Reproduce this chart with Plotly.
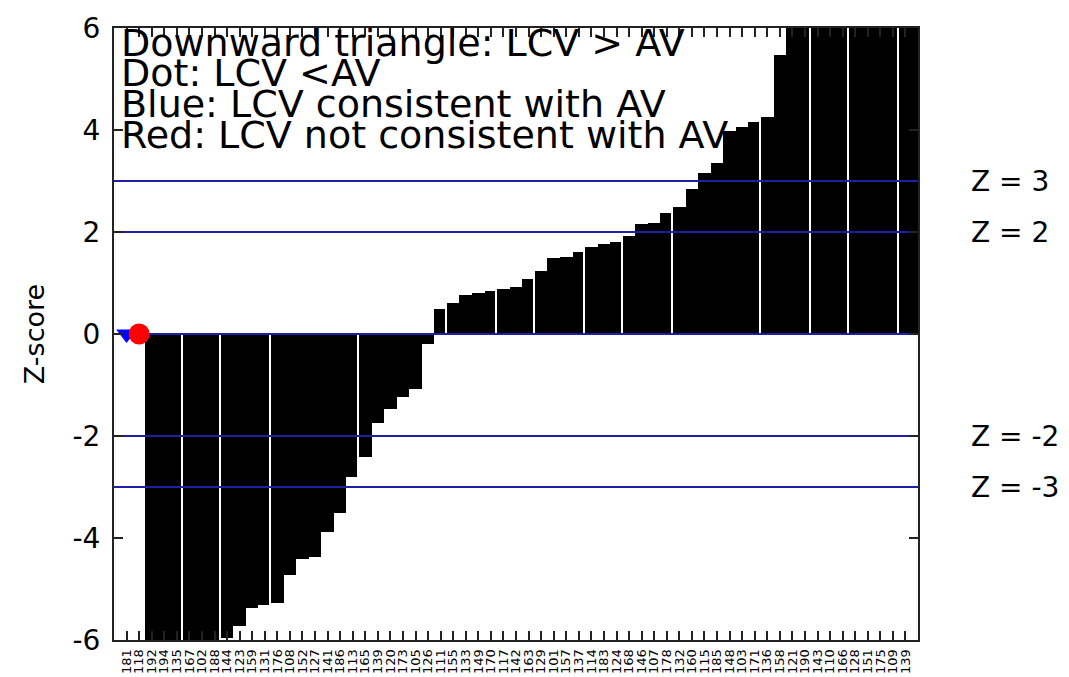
import plotly.graph_objects as go

# ---------------- data ----------------
labels = [
    "181", "118", "192", "194", "135", "167", "102", "188",
    "144", "123", "159", "131", "176", "108", "152", "127",
    "141", "186", "113", "165", "139", "120", "173", "105",
    "126", "111", "155", "133", "149", "170", "117", "142",
    "163", "129", "101", "157", "137", "114", "183", "124",
    "168", "146", "107", "178", "132", "160", "115", "185",
    "148", "103", "171", "136", "158", "121", "190", "143",
    "110", "166", "128", "151", "175", "109", "139", "",
]

z_scores = [
    None, None,
    -12.0, -10.5, -9.1, -8.0, -7.2, -6.5,
    -5.97, -5.73, -5.38, -5.31, -5.27, -4.73, -4.42, -4.38,
    -3.89, -3.50, -2.80, -2.41, -1.74, -1.48, -1.23, -1.07, -0.20,
    0.49, 0.61, 0.76, 0.81, 0.85, 0.89, 0.93, 1.08, 1.24, 1.49, 1.51, 1.61,
    1.70, 1.76, 1.81, 1.93, 2.15, 2.17, 2.38, 2.50, 2.85, 3.16, 3.35,
    3.98, 4.05, 4.15, 4.26, 5.47,
    6.4, 6.9, 7.3, 7.8, 8.2, 8.9, 9.5, 10.3, 11.2, 12.5, 14.0,
]

point_x = [0, 1]
point_y = [0.0, 0.0]
point_symbols = ["triangle-down", "circle"]
point_colors = ["#0000ff", "#ff0000"]
point_sizes = [18, 21]

z_levels = [3, 2, 0, -2, -3]
z_label_levels = [3, 2, -2, -3]
z_label_texts = ["Z = 3", "Z = 2", "Z = -2", "Z = -3"]

y_ticks = [6, 4, 2, 0, -2, -4, -6]
y_tick_text = ["6", "4", "2", "0", "-2", "-4", "-6"]

note_lines = [
    "Downward triangle: LCV > AV",
    "Dot: LCV <AV",
    "Blue: LCV consistent with AV",
    "Red: LCV not consistent with AV",
]

# ---------------- style ----------------
FONT = "DejaVu Sans"
XMIN, XMAX = -1, 63
LINE_BLUE = "#1e1ea6"
gap_after = [4, 7, 11, 18, 25, 29, 32, 36, 39, 43, 50, 54, 57, 61]
GAP = 0.18

x_idx = list(range(len(labels)))
bar_widths = [1 - GAP if i in gap_after else 1.0 for i in x_idx]

fig = go.Figure()
fig.add_trace(go.Bar(
    x=x_idx, y=z_scores, width=bar_widths, offset=-0.5,
    marker=dict(color="black", line=dict(width=0)),
    showlegend=False, hoverinfo="skip",
))

for z in z_levels:
    fig.add_trace(go.Scatter(
        x=[XMIN, XMAX], y=[z, z], mode="lines",
        line=dict(color=LINE_BLUE, width=2),
        showlegend=False, hoverinfo="skip",
    ))

fig.add_trace(go.Scatter(
    x=point_x, y=point_y, mode="markers",
    marker=dict(symbol=point_symbols, color=point_colors, size=point_sizes,
                opacity=1, line=dict(width=0)),
    opacity=1, showlegend=False, cliponaxis=False,
))

note_y = [0.9755, 0.9265, 0.8758, 0.8252]
annotations = []
for txt, yy in zip(note_lines, note_y):
    annotations.append(dict(
        text=txt, xref="paper", yref="paper", x=0.006, y=yy,
        xanchor="left", yanchor="middle", showarrow=False,
        font=dict(family=FONT, size=38, color="black"),
    ))
for lv, txt in zip(z_label_levels, z_label_texts):
    annotations.append(dict(
        text=txt, xref="paper", yref="y", x=1.064, y=lv,
        xanchor="left", yanchor="middle", showarrow=False,
        font=dict(family=FONT, size=28, color="black"),
    ))

# page body has an 8px margin, so the figure is sized/offset to compensate
fig.update_layout(
    template="none",
    width=1061, height=669,
    margin=dict(l=106, r=151, t=20, b=37, pad=0),
    paper_bgcolor="white", plot_bgcolor="white",
    bargap=0,
    font=dict(family=FONT, color="black"),
    annotations=annotations,
    xaxis=dict(
        range=[XMIN, XMAX], tickmode="array", tickvals=x_idx, ticktext=labels,
        tickangle=-90, tickfont=dict(family=FONT, size=13, color="black"),
        ticks="inside", ticklen=9, tickwidth=2, tickcolor="#222",
        ticklabelstandoff=2,
        showline=True, linecolor="#222", linewidth=2, mirror="ticks",
        showgrid=False, zeroline=False, automargin=False,
    ),
    yaxis=dict(
        range=[-6, 6], tickmode="array", tickvals=y_ticks, ticktext=y_tick_text,
        tickfont=dict(family=FONT, size=28, color="black"),
        ticks="inside", ticklen=9, tickwidth=2, tickcolor="#222",
        ticklabelstandoff=6,
        showline=True, linecolor="#222", linewidth=2, mirror="ticks",
        showgrid=False, zeroline=False, automargin=False,
        title=dict(text="Z-score", font=dict(family=FONT, size=27, color="black"),
                   standoff=20),
    ),
)

fig.write_html("out.html")
